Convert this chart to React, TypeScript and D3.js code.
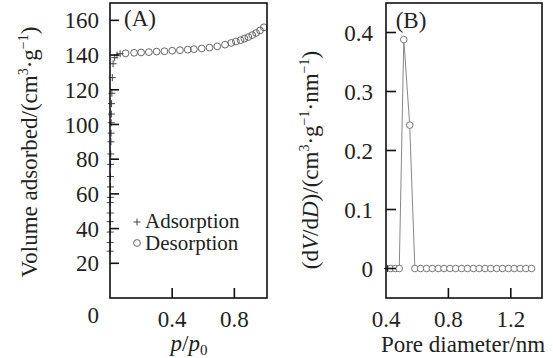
import React from "react";
import * as d3 from "d3";

// Panel A: N2 isotherm
const adsorptionP = [0.001, 0.001, 0.001, 0.0015, 0.002, 0.002, 0.002, 0.003, 0.003, 0.004, 0.005, 0.006, 0.007, 0.008, 0.009, 0.01, 0.012, 0.015, 0.02, 0.03, 0.045, 0.065];
const adsorptionV = [27, 32, 38, 44, 49, 55, 58, 64, 70, 77, 83, 90, 95, 101, 106, 112, 118, 127, 135, 138.5, 140, 140.8];
const desorptionP = [0.1, 0.155, 0.2, 0.25, 0.3, 0.35, 0.4, 0.45, 0.5, 0.54, 0.59, 0.64, 0.69, 0.74, 0.78, 0.81, 0.84, 0.865, 0.89, 0.915, 0.94, 0.965, 0.99];
const desorptionV = [141, 141.3, 141.5, 141.7, 142, 142.2, 142.5, 142.8, 143.1, 143.4, 143.8, 144.3, 145, 146, 147, 147.8, 148.6, 149.5, 150.4, 151.5, 152.7, 154.2, 156];
const xTicksA = [0.4, 0.8];
const yTicksA = [0, 20, 40, 60, 80, 100, 120, 140, 160];

// Panel B: pore size distribution
const poreD = [0.43, 0.46, 0.485, 0.514, 0.552, 0.585, 0.622, 0.66, 0.697, 0.735, 0.772, 0.81, 0.847, 0.885, 0.922, 0.96, 0.997, 1.035, 1.072, 1.11, 1.147, 1.185, 1.222, 1.26, 1.297, 1.333];
const dVdD = [0, 0, 0, 0.388, 0.243, 0, 0, 0, 0, 0, 0, 0, 0, 0, 0, 0, 0, 0, 0, 0, 0, 0, 0, 0, 0, 0];
const crossD = [0.41];
const crossV = [0];
const xTicksB = [0.4, 0.8, 1.2];
const yTicksB = [0, 0.1, 0.2, 0.3, 0.4];

const FONT = "'Liberation Serif', 'Times New Roman', serif";

export default function App() {
  const W = 553, H = 358;
  const top = 3, bottom = 298;

  const xA = d3.scaleLinear().domain([0, 1.01]).range([110, 267]);
  const yA = d3.scaleLinear().domain([0, 170]).range([bottom, top]);
  const xB = d3.scaleLinear().domain([0.4, 1.4]).range([386, 542]);
  const yB = d3.scaleLinear().domain([-0.05, 0.45]).range([bottom, top]);

  const lineB = d3.line<number>().x((_, i) => xB(poreD[i])).y((_, i) => yB(dVdD[i]));
  const fmt = (v: number) => (v === 0 ? "0" : String(v));

  const cross = (cx: number, cy: number, s: number, key: string, color = "#444") => (
    <g key={key} stroke={color} strokeWidth={1}>
      <line x1={cx - s} x2={cx + s} y1={cy} y2={cy} />
      <line x1={cx} x2={cx} y1={cy - s} y2={cy + s} />
    </g>
  );

  return (
    <svg width={W} height={H} style={{ position: "absolute", left: 0, top: 0, background: "#fff" }} fontFamily={FONT}>
      <rect x={0} y={0} width={W} height={H} fill="#fff" />
      {/* ===== Panel A ===== */}
      <g>
        {desorptionP.map((p, i) => (
          <circle key={"d" + i} cx={xA(p)} cy={yA(desorptionV[i])} r={3.4} fill="none" stroke="#555" strokeWidth={0.9} />
        ))}
        {adsorptionP.map((p, i) => cross(xA(p), yA(adsorptionV[i]), 3.5, "a" + i))}
        <rect x={xA(0)} y={top} width={xA.range()[1] - xA(0)} height={bottom - top} fill="none" stroke="#111" strokeWidth={1.6} />
        {yTicksA.filter((t) => t > 0).map((t) => (
          <line key={"yta" + t} x1={xA(0)} x2={xA(0) + 9} y1={yA(t)} y2={yA(t)} stroke="#111" strokeWidth={1.6} />
        ))}
        {yTicksA.map((t) => (
          <text key={"yla" + t} x={99} y={t === 0 ? yA(t) + 17 : yA(t)} dy="0.35em" textAnchor="end" fontSize={23} fill="#222">
            {fmt(t)}
          </text>
        ))}
        {xTicksA.map((t) => (
          <g key={"xta" + t}>
            <line x1={xA(t)} x2={xA(t)} y1={bottom} y2={bottom - 10} stroke="#111" strokeWidth={1.6} />
            <text x={xA(t)} y={327} textAnchor="middle" fontSize={23} fill="#222">{t}</text>
          </g>
        ))}
        <text x={140} y={26} textAnchor="middle" fontSize={23} fill="#222">(A)</text>
        {/* legend */}
        {cross(137, 222, 3.5, "lg", "#444")}
        <text x={145} y={228} fontSize={21} fill="#222">Adsorption</text>
        <circle cx={137} cy={243} r={3.4} fill="none" stroke="#555" strokeWidth={0.9} />
        <text x={145} y={250} fontSize={21} fill="#222">Desorption</text>
        {/* axis titles */}
        <text transform="translate(37,152) rotate(-90)" textAnchor="middle" fontSize={23} fill="#222">
          Volume adsorbed/(cm<tspan dy={-9} fontSize={14}>3</tspan><tspan dy={9}>·g</tspan><tspan dy={-9} fontSize={14}>−1</tspan><tspan dy={9}>)</tspan>
        </text>
        <text x={189} y={351} textAnchor="middle" fontSize={23} fill="#222">
          <tspan fontStyle="italic">p</tspan>/<tspan fontStyle="italic">p</tspan><tspan fontSize={15} dy={4}>0</tspan>
        </text>
      </g>

      {/* ===== Panel B ===== */}
      <g>
        <path d={lineB(dVdD) || ""} fill="none" stroke="#888" strokeWidth={1} />
        {poreD.map((p, i) => (
          <circle key={"b" + i} cx={xB(p)} cy={yB(dVdD[i])} r={3.3} fill="#fff" stroke="#666" strokeWidth={0.9} />
        ))}
        {crossD.map((p, i) => cross(xB(p), yB(crossV[i]), 3.5, "c" + i, "#222"))}
        <rect x={xB(0.4)} y={top} width={xB(1.4) - xB(0.4)} height={bottom - top} fill="none" stroke="#111" strokeWidth={1.6} />
        {yTicksB.map((t) => (
          <g key={"ytb" + t}>
            <line x1={xB(0.4)} x2={xB(0.4) + 10} y1={yB(t)} y2={yB(t)} stroke="#111" strokeWidth={1.6} />
            <text x={373} y={yB(t)} dy="0.35em" textAnchor="end" fontSize={23} fill="#222">{fmt(t)}</text>
          </g>
        ))}
        {xTicksB.map((t) => (
          <g key={"xtb" + t}>
            {t > 0.4 && <line x1={xB(t)} x2={xB(t)} y1={bottom} y2={bottom - 10} stroke="#111" strokeWidth={1.6} />}
            <text x={xB(t)} y={327} textAnchor="middle" fontSize={23} fill="#222">{t}</text>
          </g>
        ))}
        <text x={411} y={28} textAnchor="middle" fontSize={23} fill="#222">(B)</text>
        <text transform="translate(318,160) rotate(-90)" textAnchor="middle" fontSize={23} fill="#222">
          (d<tspan fontStyle="italic">V</tspan>/d<tspan fontStyle="italic">D</tspan>)/(cm<tspan dy={-9} fontSize={14}>3</tspan><tspan dy={9}>·g</tspan><tspan dy={-9} fontSize={14}>−1</tspan><tspan dy={9}>·nm</tspan><tspan dy={-9} fontSize={14}>−1</tspan><tspan dy={9}>)</tspan>
        </text>
        <text x={463} y={352} textAnchor="middle" fontSize={23} fill="#222">Pore diameter/nm</text>
      </g>
    </svg>
  );
}
